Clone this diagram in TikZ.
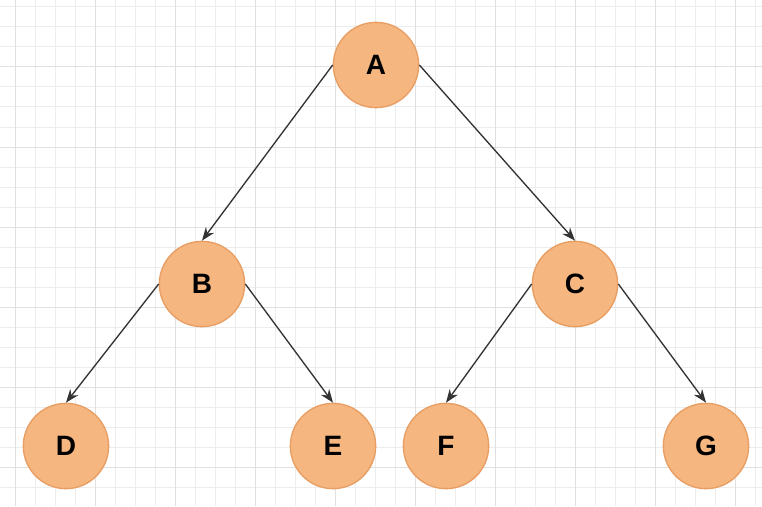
\documentclass[tikz,border=0pt]{standalone}
\usepackage{fontspec}
\setmainfont{Liberation Sans}
\usetikzlibrary{arrows.meta}
\definecolor{nodeFill} {RGB}{245, 182, 128}
\definecolor{nodeLine} {RGB}{232, 158,  98}
\definecolor{gridMinor}{RGB}{237, 237, 237}
\definecolor{gridMajor}{RGB}{224, 224, 224}
\definecolor{edgeGray} {RGB}{ 51,  51,  51}
\tikzset{
  vtx/.style   = {circle, draw=nodeLine, fill=nodeFill, line width=1pt,
                  minimum size=64pt, inner sep=0pt,
                  font=\fontsize{21}{24}\selectfont\bfseries},
  edge/.style  = {-{Stealth[length=10pt, width=7.5pt]}, line width=1pt,
                  color=edgeGray},
  gline/.style = {line width=0.75pt, color=#1},
}

\begin{document}
\begin{tikzpicture}[x=0.75pt, y=-0.75pt]

% ---- Canvas -----------------------------------------------------------------
\useasboundingbox[fill=white] (0,0) rectangle (762,506);

% ---- Grid -------------------------------------------------------------------
\foreach \gx in {15,35,...,755}
  \draw[gline=gridMinor] (\gx,0) -- (\gx,506);
\foreach \gy in {7,27,...,505}
  \draw[gline=gridMinor] (0,\gy) -- (762,\gy);
\foreach \gx in {15,95,...,755}
  \draw[gline=gridMajor] (\gx,0) -- (\gx,506);
\foreach \gy in {67,147,...,505}
  \draw[gline=gridMajor] (0,\gy) -- (762,\gy);

% ---- Tree nodes -------------------------------------------------------------
\node[vtx] (A) at (376,65)  {A};
\node[vtx] (B) at (202,284) {B};
\node[vtx] (C) at (575,284) {C};
\node[vtx] (D) at (66,446)  {D};
\node[vtx] (E) at (333,446) {E};
\node[vtx] (F) at (446,446) {F};
\node[vtx] (G) at (706,446) {G};

% ---- Edges ------------------------------------------------------------------
\draw[edge] (A.west) -- (B.north);
\draw[edge] (A.east) -- (C.north);
\draw[edge] (B.west) -- (D.north);
\draw[edge] (B.east) -- (E.north);
\draw[edge] (C.west) -- (F.north);
\draw[edge] (C.east) -- (G.north);

\end{tikzpicture}
\end{document}
